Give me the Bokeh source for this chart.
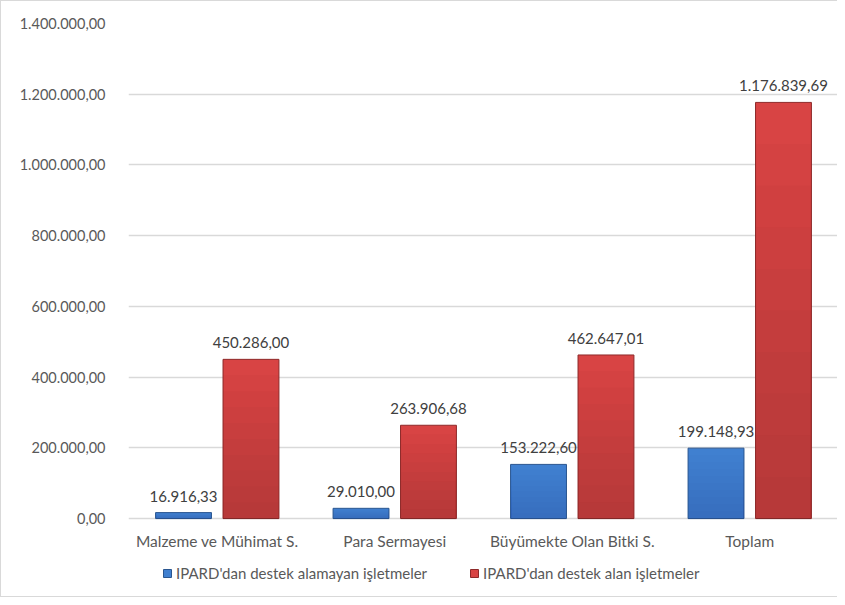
from bokeh.plotting import figure
from bokeh.models import ColumnDataSource, FactorRange, FixedTicker, Legend, LegendItem, Range1d
from bokeh.transform import dodge
from bokeh.core.properties import value
from bokeh.embed import file_html
from bokeh.resources import INLINE

categories = ["Malzeme ve Mühimat S.", "Para Sermayesi", "Büyümekte Olan Bitki S.", "Toplam"]
no_support = [16916.33, 29010.00, 153222.60, 199148.93]
with_support = [450286.00, 263906.68, 462647.01, 1176839.69]
series_names = ["IPARD'dan destek alamayan işletmeler", "IPARD'dan destek alan işletmeler"]
y_ticks = [0, 200000, 400000, 600000, 800000, 1000000, 1200000, 1400000]


def tr_fmt(v):
    s = f"{v:,.2f}"
    return s.replace(",", "X").replace(".", ",").replace("X", ".")


y_tick_labels = [tr_fmt(t) for t in y_ticks]

FONT = "Lato"
TXT = "#595959"

data = dict(
    cat=categories,
    a=no_support,
    b=with_support,
    a_lab=[tr_fmt(v) for v in no_support],
    b_lab=[tr_fmt(v) for v in with_support],
)
shade_fracs = [0.9, 0.8, 0.7, 0.6, 0.5, 0.4, 0.3, 0.2, 0.1]
for i, f in enumerate(shade_fracs):
    data[f"a_s{i}"] = [v * f for v in no_support]
    data[f"b_s{i}"] = [v * f for v in with_support]
src = ColumnDataSource(data)

# frame extends below zero to hold the category labels and legend
p = figure(x_range=FactorRange(*categories), y_range=Range1d(-226000, 1400000),
           width=837, height=597, output_backend="svg", toolbar_location=None,
           min_border_left=127, min_border_top=22, min_border_right=0, min_border_bottom=0)
p.outline_line_color = None
p.background_fill_color = "white"
p.border_fill_color = "white"
p.styles = {"border-left": "1px solid #d9d9d9", "border-top": "1px solid #d9d9d9",
            "border-bottom": "1px solid #d9d9d9"}

W = 0.315
OFF = 0.19
BLUE, BLUE_E = "#4080d0", "#2a5690"
RED, RED_E = "#d84444", "#8e2a2a"

ra = p.vbar(x=dodge("cat", -OFF, range=p.x_range), top="a", width=W, source=src,
            fill_color=BLUE, line_color=BLUE_E, line_width=1)
rb = p.vbar(x=dodge("cat", OFF, range=p.x_range), top="b", width=W, source=src,
            fill_color=RED, line_color=RED_E, line_width=1)
for i in range(len(shade_fracs)):
    p.vbar(x=dodge("cat", -OFF, range=p.x_range), top=f"a_s{i}", width=W - 0.005, source=src,
           fill_color="#1c3f70", fill_alpha=0.025, line_color=None)
    p.vbar(x=dodge("cat", OFF, range=p.x_range), top=f"b_s{i}", width=W - 0.005, source=src,
           fill_color="#5a1515", fill_alpha=0.03, line_color=None)

p.text(x=dodge("cat", -OFF, range=p.x_range), y="a", text="a_lab", source=src,
       text_align="center", text_baseline="bottom", y_offset=-11,
       text_font=value(FONT), text_font_size="15px", text_color="#404040")
p.text(x=dodge("cat", OFF, range=p.x_range), y="b", text="b_lab", source=src,
       text_align="center", text_baseline="bottom", y_offset=-11,
       text_font=value(FONT), text_font_size="15px", text_color="#404040")

p.yaxis.ticker = FixedTicker(ticks=y_ticks)
p.yaxis.major_label_overrides = {t: l for t, l in zip(y_ticks, y_tick_labels)}
p.yaxis.axis_line_color = None
p.yaxis.major_tick_line_color = None
p.yaxis.minor_tick_line_color = None
p.yaxis.major_label_standoff = 17
p.yaxis.major_label_text_font = FONT
p.yaxis.major_label_text_font_size = "14.5px"
p.yaxis.major_label_text_color = TXT

p.xaxis.fixed_location = 0
p.xaxis.axis_line_color = None
p.xaxis.major_tick_line_color = None
p.xaxis.major_label_standoff = 7
p.xaxis.major_label_text_font = FONT
p.xaxis.major_label_text_font_size = "15.5px"
p.xaxis.major_label_text_color = TXT

p.xgrid.grid_line_color = None
p.ygrid.grid_line_color = "#d9d9d9"
p.ygrid.grid_line_width = 1.5

legend = Legend(items=[LegendItem(label=series_names[0], renderers=[ra]),
                       LegendItem(label=series_names[1], renderers=[rb])],
                orientation="horizontal", location=(34, 16),
                glyph_width=10, glyph_height=10, label_standoff=4, spacing=42,
                padding=0, margin=0, border_line_color=None, background_fill_alpha=0,
                label_text_font=FONT, label_text_font_size="15px", label_text_color=TXT,
                label_height=10)
p.add_layout(legend, "center")

open("out.html", "w").write(file_html(p, INLINE))
